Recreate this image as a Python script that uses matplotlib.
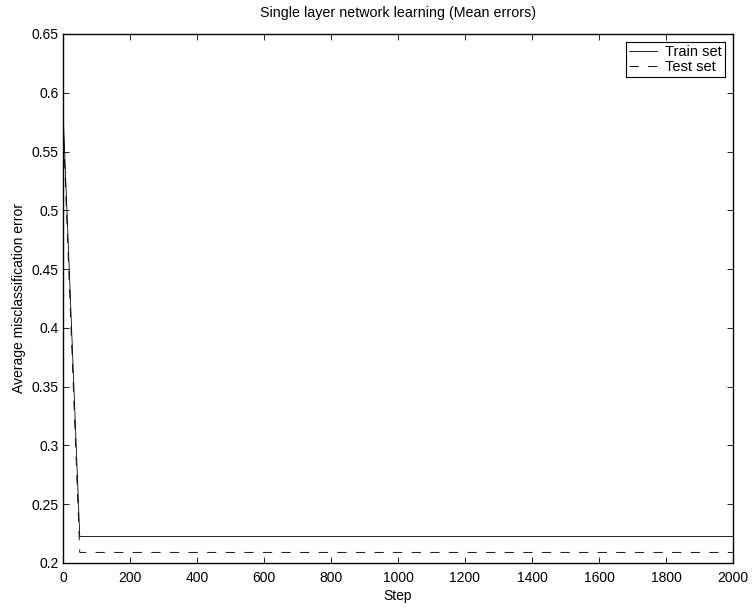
import matplotlib
matplotlib.use('Agg')
import matplotlib.pyplot as plt

plt.rcParams['font.family'] = ['Liberation Sans', 'DejaVu Sans']
plt.rcParams['font.size'] = 8

# error sampled every 50 steps
steps = list(range(0, 2001, 50))
train_err = [0.585] + [0.2225] * (len(steps) - 1)
test_err = [0.575] + [0.209] * (len(steps) - 1)

xticks = list(range(0, 2001, 200))
yticks = [0.2, 0.25, 0.3, 0.35, 0.4, 0.45, 0.5, 0.55, 0.6, 0.65]

fig = plt.figure(figsize=(7.52, 6.07), dpi=100)
ax = fig.add_axes([0.0838, 0.0725, 0.8909, 0.8715])

ax.plot(steps, train_err, 'k-', lw=0.6, label='Train set')
ax.plot(steps, test_err, 'k--', lw=0.65, dashes=(10.3, 10.3), label='Test set')

ax.set_xlim(0, 2000)
ax.set_ylim(0.2, 0.65)
ax.set_xticks(xticks)
ax.set_yticks(yticks)
ax.set_yticklabels(['0.2', '0.25', '0.3', '0.35', '0.4', '0.45', '0.5',
                    '0.55', '0.6', '0.65'])
ax.tick_params(direction='in', top=True, right=True, length=4.5, width=0.6,
               labelsize=10)
ax.tick_params(axis='x', pad=6)
ax.tick_params(axis='y', pad=3)
for s in ax.spines.values():
    s.set_linewidth(1.0)

ax.set_xlabel('Step', fontsize=10, labelpad=3)
ax.set_ylabel('Average misclassification error', fontsize=10, labelpad=4)
ax.set_title('Single layer network learning (Mean errors)', fontsize=10.3, pad=12)

leg = ax.legend(loc='upper right', fontsize=10.5, fancybox=False, framealpha=1,
                edgecolor='k', borderaxespad=0.55, handlelength=1.9,
                borderpad=0.2, labelspacing=0.05, handletextpad=0.6)
leg.get_frame().set_linewidth(0.8)

fig.savefig('out.png', dpi=100)
